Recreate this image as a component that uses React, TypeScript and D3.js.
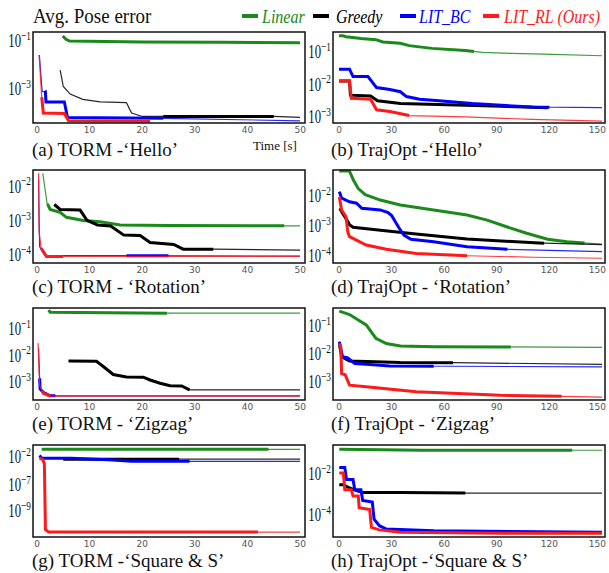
import React, { useEffect, useRef } from 'react';
import * as d3 from 'd3';

type Pt = [number, number];

const seriesNames = ['Linear', 'Greedy', 'LIT_BC', 'LIT_RL (Ours)'];
const seriesColors = ['#1a8a1a', '#000000', '#0000ff', '#ff1a1a'];

const tormTicks = [0, 10, 20, 30, 40, 50];
const trajTicks = [0, 30, 60, 90, 120, 150];

// (a) TORM - 'Hello'
const tormHelloLinear: Pt[] = [[4.9, 1.8e-1], [5.5, 1.3e-1], [6.2, 1.1e-1], [20, 1.0e-1], [35, 9.8e-2], [50, 9.3e-2]];
const tormHelloGreedy: Pt[] = [[4.4, 6.8e-3], [5, 1.4e-3], [6.3, 6.8e-4], [8.7, 4.1e-4], [12, 3.2e-4], [17, 3.0e-4], [17.6, 1.6e-4], [18, 1.1e-4], [20, 7.9e-5], [24, 7.9e-5], [45, 7.9e-5], [50, 7.2e-5]];
const tormHelloBC: Pt[] = [[0.45, 2.9e-2], [0.9, 1.4e-3], [1, 8.5e-4], [1.6, 8.5e-4], [1.7, 3.2e-4], [5.2, 3.2e-4], [5.8, 7.2e-5], [24, 6.6e-5], [50, 5.2e-5]];
const tormHelloRL: Pt[] = [[0.4, 2.9e-2], [0.9, 5.0e-4], [1.2, 1.1e-4], [5.2, 1.05e-4], [6, 5.2e-5], [21.5, 5.0e-5]];

// (b) TrajOpt - 'Hello'
const trajHelloLinear: Pt[] = [[0, 3.4e-1], [2.2, 3.4e-1], [4, 3.2e-1], [12.6, 2.8e-1], [21, 2.6e-1], [25, 2.2e-1], [35, 2.0e-1], [40, 1.7e-1], [53, 1.4e-1], [72, 1.2e-1], [82, 1.05e-1], [98, 9.8e-2], [117, 9.3e-2], [150, 8.3e-2]];
const trajHelloGreedy: Pt[] = [[0, 1.4e-2], [6, 1.4e-2], [6.5, 5.1e-3], [18, 4.8e-3], [22, 3.4e-3], [35, 2.8e-3], [72, 2.5e-3], [119, 2.1e-3]];
const trajHelloBC: Pt[] = [[0, 3.2e-2], [6, 3.2e-2], [8, 1.9e-2], [16.5, 1.9e-2], [21.4, 8.7e-3], [29, 7.6e-3], [35, 6.5e-3], [38.5, 4.6e-3], [46, 3.8e-3], [57, 3.4e-3], [76, 2.8e-3], [110, 2.2e-3], [150, 2.1e-3]];
const trajHelloRL: Pt[] = [[0, 1.4e-2], [6, 1.4e-2], [7, 4.1e-3], [18, 3.8e-3], [21.4, 1.8e-3], [29, 1.6e-3], [40, 1.2e-3], [72, 1.1e-3], [110, 9.1e-4], [150, 8.1e-4]];

// (c) TORM - 'Rotation'
const tormRotLinear: Pt[] = [[1.1, 2.6e-2], [1.9, 3.6e-3], [2.5, 2.3e-3], [4.4, 1.9e-3], [5.6, 1.35e-3], [8.8, 1.1e-3], [12, 1.0e-3], [15.8, 8.1e-4], [24.7, 7.8e-4], [50, 7.6e-4]];
const tormRotGreedy: Pt[] = [[3.3, 3.2e-3], [4.4, 2.3e-3], [8.2, 2.2e-3], [9.5, 1.1e-3], [11.5, 8.1e-4], [14, 7.6e-4], [16.5, 4.1e-4], [19.6, 4.0e-4], [21.5, 2.5e-4], [26, 2.2e-4], [27.8, 1.6e-4], [33.5, 1.6e-4], [50, 1.5e-4]];
const tormRotBC: Pt[] = [[0.3, 1.7e-2], [0.4, 1.1e-3], [0.5, 1.9e-4], [1, 1.35e-4], [1.5, 1.05e-4], [50, 1.0e-4]];
const tormRotRL: Pt[] = [[0.3, 2.6e-2], [0.4, 5.1e-4], [0.8, 1.7e-4], [1.3, 1.3e-4], [1.8, 9.8e-5], [50, 9.8e-5]];

// (d) TrajOpt - 'Rotation'
const trajRotLinear: Pt[] = [[0.2, 7.4e-2], [5.9, 7.4e-2], [8.2, 3.7e-2], [11, 1.9e-2], [15, 1.2e-2], [23.5, 7.9e-3], [35, 5.4e-3], [54, 3.7e-3], [73, 2.5e-3], [84.5, 1.7e-3], [96, 1.0e-3], [107, 6.2e-4], [119, 3.9e-4], [130, 3.2e-4], [150, 2.7e-4]];
const trajRotGreedy: Pt[] = [[0.5, 4.2e-3], [1.5, 3.2e-3], [4, 1.9e-3], [6, 1.2e-3], [8, 9.8e-4], [25, 7.6e-4], [44, 5.8e-4], [73, 4.0e-4], [101, 3.2e-4], [117, 2.9e-4], [150, 2.6e-4]];
const trajRotBC: Pt[] = [[0.2, 1.5e-2], [1.5, 9.1e-3], [6, 6.9e-3], [10, 6.2e-3], [13, 4.2e-3], [23.5, 3.7e-3], [28, 3.0e-3], [30, 2.4e-3], [34, 9.8e-4], [37, 5.4e-4], [41, 3.9e-4], [54, 3.2e-4], [73, 2.2e-4], [96, 1.8e-4], [150, 1.5e-4]];
const trajRotRL: Pt[] = [[0.2, 1.0e-2], [1.5, 3.7e-3], [4, 2.2e-3], [5, 6.9e-4], [6, 4.8e-4], [15.5, 2.5e-4], [27, 1.8e-4], [44, 1.3e-4], [73, 1.1e-4], [111, 9.8e-5], [150, 9.1e-5]];

// (e) TORM - 'Zigzag'
const tormZigLinear: Pt[] = [[2.2, 5.6e-1], [2.5, 4.7e-1], [24.7, 4.3e-1], [50, 4.3e-1]];
const tormZigGreedy: Pt[] = [[6, 6.8e-3], [11.3, 6.6e-3], [12.6, 4.2e-3], [14.5, 2.1e-3], [17, 1.7e-3], [20.2, 1.66e-3], [21.5, 1.3e-3], [23.4, 9.8e-4], [25.3, 7.9e-4], [27.5, 7.8e-4], [29, 5.5e-4], [50, 5.5e-4]];
const tormZigBC: Pt[] = [[0.3, 2.0e-2], [0.5, 1.5e-3], [0.6, 5.9e-4], [1.2, 4.5e-4], [2.5, 3.3e-4], [50, 3.3e-4]];
const tormZigRL: Pt[] = [[0.2, 3.2e-2], [0.5, 8.3e-4], [1.2, 4.1e-4], [2.5, 3.2e-4], [50, 3.2e-4]];

// (f) TrajOpt - 'Zigzag'
const trajZigLinear: Pt[] = [[0.2, 3.7e-1], [6, 2.8e-1], [15.5, 1.2e-1], [21, 4.0e-2], [27, 2.6e-2], [35, 2.1e-2], [54, 2.0e-2], [150, 1.9e-2]];
const trajZigGreedy: Pt[] = [[0.2, 2.6e-2], [1.5, 8.7e-3], [6, 6.2e-3], [35, 5.5e-3], [65, 5.4e-3], [150, 4.7e-3]];
const trajZigBC: Pt[] = [[0.2, 3.0e-2], [2, 8.7e-3], [5, 7.9e-3], [9, 5.0e-3], [15.5, 4.7e-3], [29, 4.1e-3], [150, 3.8e-3]];
const trajZigRL: Pt[] = [[0.2, 2.6e-2], [1, 2.0e-2], [1.5, 2.2e-3], [3.5, 2.0e-3], [6, 8.5e-4], [15.5, 7.4e-4], [44, 4.9e-4], [92, 3.7e-4], [150, 3.2e-4]];

// (g) TORM - 'Square & S'
const tormSqLinear: Pt[] = [[0.9, 1.0e-1], [50, 1.0e-1]];
const tormSqGreedy: Pt[] = [[5, 6.0e-3], [50, 6.0e-3]];
const tormSqBC: Pt[] = [[0.5, 1.9e-2], [0.9, 8.3e-3], [6.5, 8.3e-3], [13.6, 4.5e-3], [18, 2.5e-3], [50, 2.5e-3]];
const tormSqRL: Pt[] = [[0.5, 8.9e-3], [1.1, 5.0e-3], [1.4, 1.0e-3], [1.6, 4.0e-11], [2.2, 2.5e-11], [50, 2.5e-11]];

// (h) TrajOpt - 'Square & S'
const trajSqLinear: Pt[] = [[0.2, 1.7e-1], [48, 1.5e-1], [150, 1.5e-1]];
const trajSqGreedy: Pt[] = [[0.2, 3.3e-3], [2.5, 3.3e-3], [6, 2.3e-3], [10, 1.7e-3], [13.5, 1.4e-3], [35, 1.4e-3], [72, 1.3e-3], [150, 1.3e-3]];
const trajSqBC: Pt[] = [[0.2, 2.2e-2], [3.3, 2.2e-2], [4.3, 5.8e-3], [8, 5.8e-3], [9, 1.9e-3], [12.5, 1.9e-3], [13.5, 5.8e-4], [19, 4.8e-4], [20, 7.2e-5], [23, 3.5e-5], [27, 2.4e-5], [54, 2.0e-5], [150, 1.7e-5]];
const trajSqRL: Pt[] = [[0.2, 1.2e-2], [2.5, 1.2e-2], [3.3, 1.9e-3], [7, 1.9e-3], [8, 9.3e-4], [11, 9.3e-4], [11.5, 2.6e-4], [17.5, 2.1e-4], [18.5, 2.9e-5], [23, 2.2e-5], [35, 1.7e-5], [92, 1.5e-5], [150, 1.5e-5]];

// layout
const cols = [
  { x0: 33, x1: 305, d0: 37, d1: 300, cap: 32 },
  { x0: 333, x1: 605, d0: 339, d1: 602, cap: 331 },
];
const rows = [
  { y0: 32, y1: 123, cap: 156 },
  { y0: 170, y1: 263, cap: 293 },
  { y0: 308, y1: 400, cap: 430 },
  { y0: 445, y1: 537, cap: 567 },
];

const panels = [
  { caption: '(a) TORM -\u2018Hello\u2019', col: 0, row: 0, xMax: 50, xTicks: tormTicks, yTicks: [1e-1, 1e-3],
    yExp: [-0.58, -4.375], series: [tormHelloLinear, tormHelloGreedy, tormHelloBC, tormHelloRL],
    thick: [[4.9, 50], [24, 45], [1.5, 24], [0.9, 21.5]] },
  { caption: '(b) TrajOpt -\u2018Hello\u2019', col: 1, row: 0, xMax: 150, xTicks: trajTicks, yTicks: [1e-1, 1e-2, 1e-3],
    yExp: [-0.35, -3.15], series: [trajHelloLinear, trajHelloGreedy, trajHelloBC, trajHelloRL],
    thick: [[0, 77], [0, 119], [0, 120], [0, 40]] },
  { caption: '(c) TORM - \u2018Rotation\u2019', col: 0, row: 1, xMax: 50, xTicks: tormTicks, yTicks: [1e-2, 1e-3, 1e-4],
    yExp: [-1.49, -4.2], series: [tormRotLinear, tormRotGreedy, tormRotBC, tormRotRL],
    thick: [[2, 47], [3.3, 33.5], [17, 25], [0.8, 5]] },
  { caption: '(d) TrajOpt - \u2018Rotation\u2019', col: 1, row: 1, xMax: 150, xTicks: trajTicks, yTicks: [1e-2, 1e-3, 1e-4],
    yExp: [-1.1, -4.2], series: [trajRotLinear, trajRotGreedy, trajRotBC, trajRotRL],
    thick: [[0.2, 140], [0.5, 117], [0.2, 96], [0.2, 73]] },
  { caption: '(e) TORM - \u2018Zigzag\u2019', col: 0, row: 2, xMax: 50, xTicks: tormTicks, yTicks: [1e-1, 1e-2, 1e-3],
    yExp: [-0.17, -3.64], series: [tormZigLinear, tormZigGreedy, tormZigBC, tormZigRL],
    thick: [[2.2, 24.7], [6, 29], [0.5, 3.5], [1, 2.5]] },
  { caption: '(f) TrajOpt - \u2018Zigzag\u2019', col: 1, row: 2, xMax: 150, xTicks: trajTicks, yTicks: [1e-1, 1e-2, 1e-3],
    yExp: [-0.32, -3.6], series: [trajZigLinear, trajZigGreedy, trajZigBC, trajZigRL],
    thick: [[0.2, 98], [0.2, 65], [0.2, 54], [0.2, 127]] },
  // the original axis of (g) is not evenly spaced, so it is piecewise
  { caption: '(g) TORM -\u2018Square & S\u2019', col: 0, row: 3, xMax: 50, xTicks: tormTicks, yTicks: [1e-2, 1e-7, 1e-9],
    yExp: [-0.5, -2, -7, -9, -11], yFrac: [0, 0.14, 0.45, 0.73, 1],
    series: [tormSqLinear, tormSqGreedy, tormSqBC, tormSqRL],
    thick: [[0.9, 44], [5, 27], [0.5, 29], [0.5, 42]] },
  { caption: '(h) TrajOpt -\u2018Square & S\u2019', col: 1, row: 3, xMax: 150, xTicks: trajTicks, yTicks: [1e-2, 1e-4],
    yExp: [-0.57, -5.0], series: [trajSqLinear, trajSqGreedy, trajSqBC, trajSqRL],
    thick: [[0.2, 133], [0.2, 72], [0.2, 150], [0.2, 150]] },
];

const serif = '"Liberation Serif", "Times New Roman", serif';

// pieces of a series between t0 and t1, interpolated in log space
const segment = (pts: Pt[], t0: number, t1: number): Pt[] => {
  const at = (t: number): Pt => {
    for (let i = 0; i < pts.length - 1; i++) {
      const a = pts[i], b = pts[i + 1];
      if (t >= a[0] && t <= b[0]) {
        const k = b[0] === a[0] ? 0 : (t - a[0]) / (b[0] - a[0]);
        return [t, Math.pow(10, Math.log10(a[1]) + k * (Math.log10(b[1]) - Math.log10(a[1])))];
      }
    }
    return pts[pts.length - 1];
  };
  const s = Math.max(t0, pts[0][0]);
  const e = Math.min(t1, pts[pts.length - 1][0]);
  if (e <= s) return [];
  const out: Pt[] = [at(s)];
  pts.forEach((p) => { if (p[0] > s && p[0] < e) out.push(p); });
  out.push(at(e));
  return out;
};

const drawPanel = (svg: any, p: any) => {
  const c = cols[p.col], r = rows[p.row];
  const x = d3.scaleLinear().domain([0, p.xMax]).range([c.d0, c.d1]);
  const frac = p.yFrac || [0, 1];
  const yl = d3.scaleLinear().domain(p.yExp).range(frac.map((f: number) => r.y0 + f * (r.y1 - r.y0)));
  const y = (v: number) => yl(Math.log10(v));

  const g = svg.append('g');
  g.append('rect').attr('x', c.x0).attr('y', r.y0).attr('width', c.x1 - c.x0).attr('height', r.y1 - r.y0)
    .attr('fill', '#fff');

  const line = d3.line<Pt>().x((d) => x(d[0])).y((d) => y(d[1]));
  p.series.forEach((pts: Pt[], i: number) => {
    g.append('path').attr('d', line(pts)).attr('fill', 'none')
      .attr('stroke', seriesColors[i]).attr('stroke-width', 1.2).attr('stroke-opacity', 0.85);
    const th = segment(pts, p.thick[i][0], p.thick[i][1]);
    if (th.length > 1) {
      g.append('path').attr('d', line(th)).attr('fill', 'none')
        .attr('stroke', seriesColors[i]).attr('stroke-width', 3);
    }
  });

  g.append('rect').attr('x', c.x0).attr('y', r.y0).attr('width', c.x1 - c.x0).attr('height', r.y1 - r.y0)
    .attr('fill', 'none').attr('stroke', '#111').attr('stroke-width', 1.5);

  // x tick labels, the last one pulled in so it stays inside the box edge
  const last = p.xTicks[p.xTicks.length - 1];
  g.selectAll('.xt').data(p.xTicks).enter().append('text')
    .attr('x', (d: number) => (d === last ? c.x1 + 1 : x(d)))
    .attr('y', r.y1 + 10)
    .attr('text-anchor', (d: number) => (d === last ? 'end' : 'middle'))
    .attr('font-family', '"DejaVu Sans", sans-serif')
    .attr('font-size', 9).attr('fill', '#555').text((d: number) => d);

  // y tick labels, 10^n
  p.yTicks.forEach((v: number) => {
    const e = Math.round(Math.log10(v));
    const t = g.append('g').attr('transform', `translate(${c.x0 - 2},${y(v) + 5}) scale(0.85,1.2)`)
      .append('text').attr('text-anchor', 'end').attr('font-family', serif).attr('font-size', 15).attr('fill', '#111');
    t.append('tspan').text('10');
    t.append('tspan').attr('dy', -6).attr('font-size', 11).text('\u2212' + Math.abs(e));
  });

  g.append('text').attr('x', c.cap).attr('y', r.cap).attr('font-family', serif).attr('font-size', 19)
    .attr('fill', '#111').text(p.caption);
};

const drawLegend = (svg: any) => {
  svg.append('g').attr('transform', 'translate(33,23) scale(1,1.1)')
    .append('text').attr('font-family', serif).attr('font-size', 19)
    .attr('fill', '#111').text('Avg. Pose error');
  const dashX = [242, 313, 400, 483];
  const textX = [262, 336, 419, 504];
  seriesNames.forEach((name, i) => {
    svg.append('line').attr('x1', dashX[i]).attr('x2', dashX[i] + 16).attr('y1', 16).attr('y2', 16)
      .attr('stroke', seriesColors[i]).attr('stroke-width', 4);
    svg.append('g').attr('transform', `translate(${textX[i]},23) scale(1,1.22)`)
      .append('text').attr('font-family', serif)
      .attr('font-style', 'italic').attr('font-size', 16).attr('fill', seriesColors[i]).text(name);
  });
};

export default function App() {
  const ref = useRef<SVGSVGElement>(null);

  useEffect(() => {
    const svg = d3.select(ref.current);
    svg.selectAll('*').remove();
    drawLegend(svg);
    panels.forEach((p) => drawPanel(svg, p));
    svg.append('text').attr('x', 253).attr('y', 150).attr('font-family', serif).attr('font-size', 13)
      .attr('fill', '#111').text('Time [s]');
  }, []);

  return (
    <svg ref={ref} width={609} height={573}
      style={{ position: 'absolute', left: 0, top: 0, background: '#fff' }} />
  );
}
